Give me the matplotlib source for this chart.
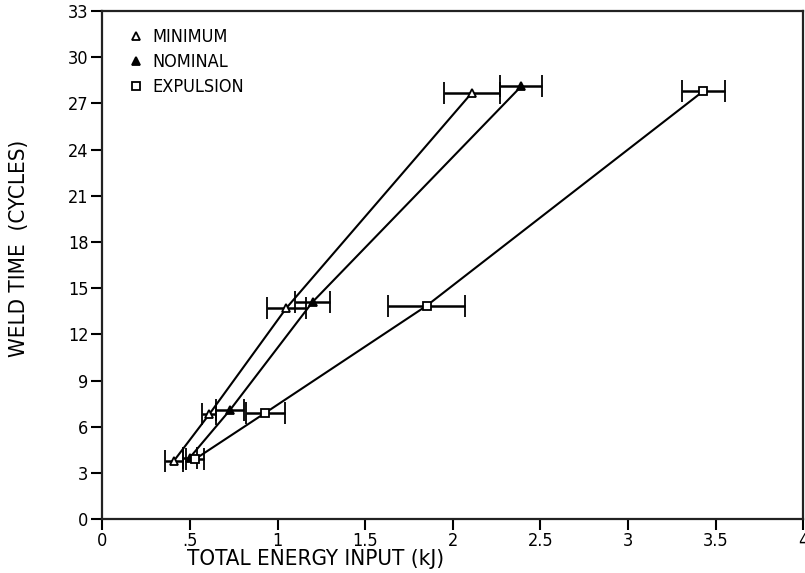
import matplotlib
matplotlib.use('Agg')
import matplotlib.pyplot as plt
from matplotlib.ticker import FuncFormatter

# weld time vs total energy input, three current levels
series_names = ['MINIMUM', 'NOMINAL', 'EXPULSION']

min_energy = [0.41, 0.61, 1.05, 2.11]
min_err = [0.05, 0.04, 0.11, 0.16]
min_time = [3.8, 6.8, 13.7, 27.7]

nom_energy = [0.50, 0.73, 1.20, 2.39]
nom_err = [0.04, 0.08, 0.10, 0.12]
nom_time = [4.0, 7.1, 14.1, 28.1]

exp_energy = [0.53, 0.93, 1.85, 3.43]
exp_err = [0.05, 0.11, 0.22, 0.12]
exp_time = [3.9, 6.9, 13.85, 27.8]

x_ticks = [0, 0.5, 1, 1.5, 2, 2.5, 3, 3.5, 4]
y_ticks = list(range(0, 34, 3))

plt.rcParams['font.family'] = ['DejaVu Sans']
plt.rcParams['font.stretch'] = 'condensed'

fig = plt.figure(figsize=(8.05, 5.73), dpi=100)
ax = fig.add_axes([0.127, 0.094, 0.871, 0.887])

styles = [
    (min_energy, min_err, min_time, dict(marker='^', mfc='white', ms=6)),
    (nom_energy, nom_err, nom_time, dict(marker='^', mfc='black', ms=6)),
    (exp_energy, exp_err, exp_time, dict(marker='s', mfc='white', ms=6)),
]

handles = []
for (xs, xe, ys, mk), name in zip(styles, series_names):
    ax.errorbar(xs, ys, xerr=xe, color='black', lw=1.5, elinewidth=1.8,
                capsize=8, capthick=1.8, mec='black', mew=1.3, **mk)
    h, = ax.plot([], [], linestyle='none', color='black', mec='black',
                 mew=1.3, **mk)
    handles.append(h)

ax.legend(handles, series_names, loc='upper left', frameon=False,
          fontsize=13, handletextpad=0.3, handlelength=1.2,
          labelspacing=0.38, borderaxespad=0.0, bbox_to_anchor=(0.023, 0.98))

ax.set_xlim(0, 4)
ax.set_ylim(0, 33)
ax.set_xticks(x_ticks)
ax.set_yticks(y_ticks)


def energy_fmt(v, pos):
    s = '%g' % v
    return s[1:] if s.startswith('0.') else s


ax.xaxis.set_major_formatter(FuncFormatter(energy_fmt))
ax.tick_params(axis='both', direction='out', length=8, width=1.5,
               labelsize=13, colors='black')
ax.tick_params(axis='x', pad=1)
ax.tick_params(axis='y', pad=2)

for sp in ax.spines.values():
    sp.set_linewidth(1.6)
    sp.set_color('#222222')

ax.set_xlabel('TOTAL ENERGY INPUT (kJ)', fontsize=16)
ax.xaxis.set_label_coords(0.304, -0.058)
ax.set_ylabel('WELD TIME  (CYCLES)', fontsize=16)
ax.yaxis.set_label_coords(-0.105, 0.533)

fig.savefig('out.png', dpi=100)
